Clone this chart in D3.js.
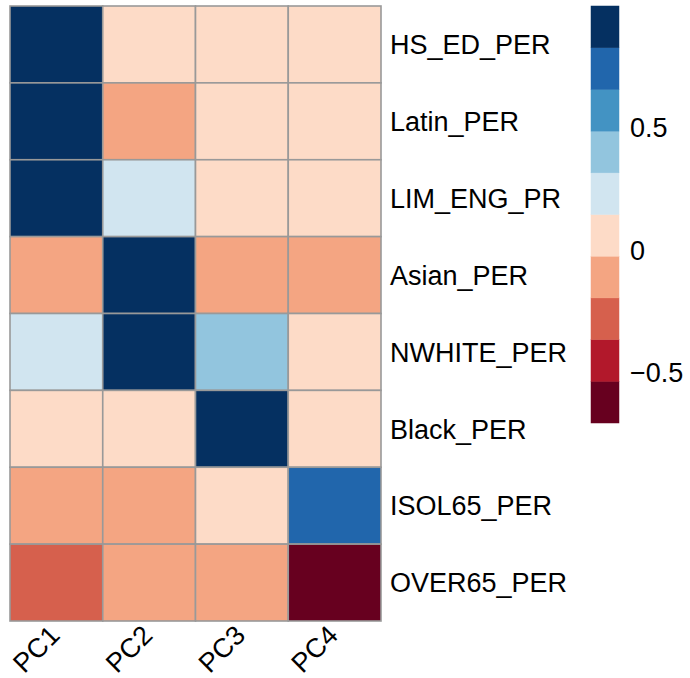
<html>
  <meta charset="utf-8">
  <head>
  <style>
    body {
      margin: 0;
      background: #fff;
    }
    svg text {
      font-family: "Liberation Sans", Arial, Helvetica, sans-serif;
      fill: #000;
    }
  </style>
  </head>
  <body>
    <div id="chart"></div>

    <script src="https://d3js.org/d3.v7.min.js"></script>
    <script>
    'use strict';

    var WIDTH = 690,
        HEIGHT = 678;

    // data
    var rows = ['HS_ED_PER', 'Latin_PER', 'LIM_ENG_PR', 'Asian_PER',
                'NWHITE_PER', 'Black_PER', 'ISOL65_PER', 'OVER65_PER'];
    var cols = ['PC1', 'PC2', 'PC3', 'PC4'];
    var values = [
      [ 0.95,  0.04,  0.02,  0.03],
      [ 0.96, -0.12,  0.03,  0.05],
      [ 0.93,  0.22,  0.02,  0.04],
      [-0.10,  0.97, -0.11, -0.13],
      [ 0.21,  0.92,  0.38,  0.06],
      [ 0.05,  0.03,  0.98,  0.04],
      [-0.09, -0.11,  0.06,  0.72],
      [-0.27, -0.12, -0.14, -0.70]
    ];
    var legendRange = [-0.705, 0.995];
    var legendTicks = [-0.5, 0, 0.5];
    // low -> high
    var palette = ['#67001F', '#B2182B', '#D6604D', '#F4A582', '#FDDBC7',
                   '#D1E5F0', '#92C5DE', '#4393C3', '#2166AC', '#053061'];

    var grid = {left: 10, top: 6, right: 381, bottom: 621};
    var legend = {left: 591, width: 28, top: 6, bottom: 423};

    var svg = d3.select('#chart').append('svg')
      .attr('width', WIDTH)
      .attr('height', HEIGHT);

    var x = d3.scaleBand().domain(cols).range([grid.left, grid.right]);
    var y = d3.scaleBand().domain(rows).range([grid.top, grid.bottom]);
    var color = d3.scaleQuantize().domain(legendRange).range(palette);

    var cells = [];
    values.forEach(function(r, i) {
      r.forEach(function(v, j) {
        cells.push({row: rows[i], col: cols[j], value: v});
      });
    });

    svg.append('g').selectAll('rect')
      .data(cells)
      .enter().append('rect')
        .attr('x', function(d) { return x(d.col); })
        .attr('y', function(d) { return y(d.row); })
        .attr('width', x.bandwidth())
        .attr('height', y.bandwidth())
        .attr('fill', function(d) { return color(d.value); })
        .attr('stroke', '#999')
        .attr('stroke-width', 1.6);

    // row labels
    svg.append('g').selectAll('text')
      .data(rows)
      .enter().append('text')
        .attr('x', grid.right + 9)
        .attr('y', function(d) { return y(d) + y.bandwidth() / 2; })
        .attr('dy', '0.36em')
        .style('font-size', '27px')
        .text(function(d) { return d; });

    // column labels, rotated
    svg.append('g').selectAll('text')
      .data(cols)
      .enter().append('text')
        .attr('text-anchor', 'end')
        .attr('transform', function(d) {
          return 'translate(' + (x(d) + x.bandwidth() / 2 + 5) + ',637) rotate(-45)';
        })
        .style('font-size', '27px')
        .text(function(d) { return d; });

    // legend colour bar
    var ly = d3.scaleLinear().domain(legendRange).range([legend.bottom, legend.top]);
    var step = (legendRange[1] - legendRange[0]) / palette.length;
    svg.append('g').selectAll('rect')
      .data(palette)
      .enter().append('rect')
        .attr('x', legend.left)
        .attr('y', function(d, i) { return ly(legendRange[0] + (i + 1) * step); })
        .attr('width', legend.width)
        .attr('height', function(d, i) {
          return ly(legendRange[0] + i * step) - ly(legendRange[0] + (i + 1) * step);
        })
        .attr('fill', function(d) { return d; })
        .attr('stroke', function(d) { return d; })
        .attr('stroke-width', 0.5);

    svg.append('g').selectAll('text')
      .data(legendTicks)
      .enter().append('text')
        .attr('x', 630)
        .attr('y', function(d) { return ly(d); })
        .attr('dy', '0.36em')
        .style('font-size', '27px')
        .text(function(d) { return d < 0 ? '\u2212' + Math.abs(d) : String(d); });

    </script>
  </body>
</html>
